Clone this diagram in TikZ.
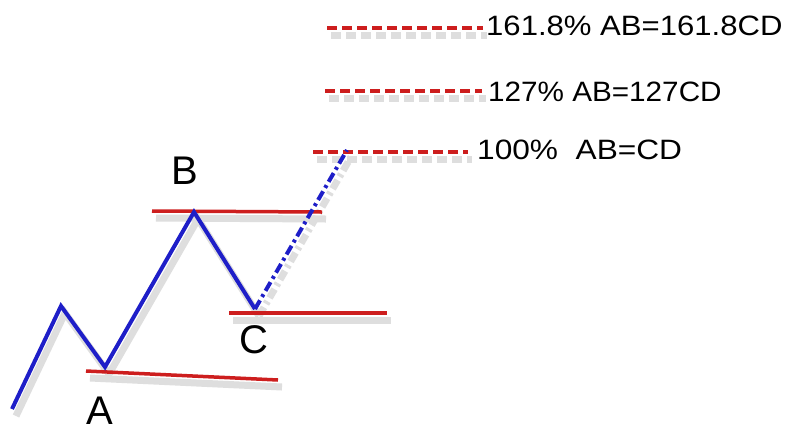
\documentclass[tikz,border=0pt]{standalone}
\usepackage{fontspec}
\setmainfont{Liberation Sans}
\definecolor{wavblue}{RGB}{30,30,200}
\definecolor{levred}{RGB}{205,30,30}
\begin{document}
\begin{tikzpicture}[x=1pt,y=-1pt,
  bluewave/.style={draw=wavblue,line width=4pt,line join=miter},
  projline/.style={draw=wavblue,line width=4pt,dash pattern=on 10pt off 4pt on 3pt off 4pt},
  redlevel/.style={draw=levred,line width=3.5pt},
  fiblevel/.style={draw=levred,line width=3.5pt,dash pattern=on 10pt off 5pt},
  shade/.style={draw=black!13,line width=7pt,transform canvas={shift={(4pt,-7pt)}}},
  ptlabel/.style={font=\fontsize{40}{42}\selectfont,inner sep=0pt},
  fibtext/.style={font=\fontsize{28}{30}\selectfont,inner sep=0pt,anchor=west}]
\fill[white] (0,0) rectangle (811,432);
\useasboundingbox (0,0) rectangle (811,432);
% points
\coordinate (S) at (12,409);
\coordinate (P) at (61,306);
\coordinate (A) at (105,367);
\coordinate (B) at (194,212);
\coordinate (C) at (255,309);
\coordinate (D) at (347,150);
% level endpoints
\coordinate (a1) at (86,371); \coordinate (a2) at (278,380);
\coordinate (b1) at (152,211); \coordinate (b2) at (322,212);
\coordinate (c1) at (229,313); \coordinate (c2) at (387,313);
\coordinate (f1s) at (327,28); \coordinate (f1e) at (483,28);
\coordinate (f2s) at (325,91); \coordinate (f2e) at (482,91);
\coordinate (f3s) at (313,152); \coordinate (f3e) at (468,152);
% shadows
\draw[shade] (S) -- (P) -- (A) -- (B) -- (C);
\draw[shade] (a1) -- (a2);
\draw[shade] (b1) -- (b2);
\draw[shade] (c1) -- (c2);
\draw[shade,dash pattern=on 10pt off 5pt] (f1s) -- (f1e);
\draw[shade,dash pattern=on 10pt off 5pt] (f2s) -- (f2e);
\draw[shade,dash pattern=on 10pt off 5pt] (f3s) -- (f3e);
\draw[shade,dash pattern=on 10pt off 4pt on 3pt off 4pt] (C) -- (D);
% red levels
\draw[redlevel] (a1) -- (a2);
\draw[redlevel] (b1) -- (b2);
\draw[redlevel] (c1) -- (c2);
\draw[fiblevel] (f1s) -- (f1e);
\draw[fiblevel] (f2s) -- (f2e);
\draw[fiblevel] (f3s) -- (f3e);
% wave
\draw[bluewave] (S) -- (P) -- (A) -- (B) -- (C);
\draw[projline] (C) -- (D);
% labels
\node[ptlabel] (lA) at (100,411) {A};
\node[ptlabel] (lB) at (185,171) {B};
\node[ptlabel] (lC) at (254,340) {C};
\node[fibtext] (t1) at (486,26) {\scalebox{1.11}[1]{161.8\% AB=161.8CD}};
\node[fibtext] (t2) at (488,92) {\scalebox{1.06}[1]{127\% AB=127CD}};
\node[fibtext] (t3) at (477,150) {\scalebox{1.13}[1]{100\%\ \ AB=CD}};
\end{tikzpicture}
\end{document}
